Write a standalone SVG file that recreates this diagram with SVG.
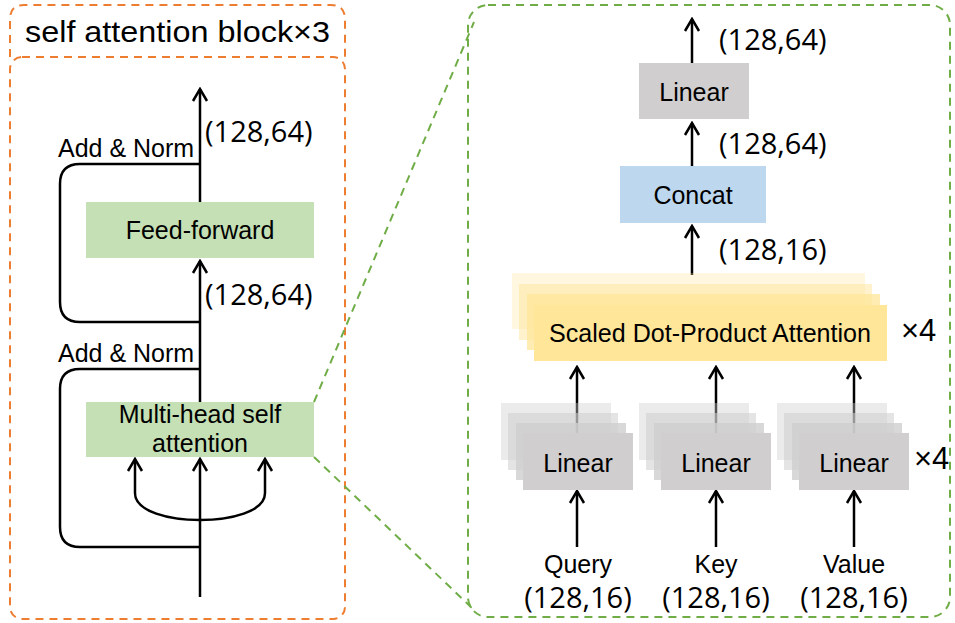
<svg xmlns="http://www.w3.org/2000/svg" width="955" height="623" viewBox="0 0 955 623">
<style>
.t{font-family:"Liberation Sans",Arial,sans-serif;font-size:25px;fill:#000}
.d{font-family:"Open Sans","Liberation Sans",sans-serif;font-size:29px;fill:#000}
.x{font-family:"Liberation Sans",Arial,sans-serif;font-size:31px;fill:#000}
.ln{fill:none;stroke:#000;stroke-width:2.5}
.orange{fill:none;stroke:#ED7D31;stroke-width:2;stroke-dasharray:8 6}
.green{fill:none;stroke:#70AD47;stroke-width:2;stroke-dasharray:8 6}
.lin{fill:#D0CECE}
.sd{fill:#FFE699}
</style>
<defs>
<marker id="ah" viewBox="-15 -10 17 20" refX="0" refY="0" markerWidth="17" markerHeight="20" markerUnits="userSpaceOnUse" orient="auto">
<path d="M-12,-7 L0,0 L-12,7" fill="none" stroke="#000" stroke-width="2.5"/>
</marker>
</defs>
<rect width="955" height="623" fill="#fff"/>

<g id="left-frame">
<path class="orange" d="M10,57 V19 Q10,5 24,5 H331 Q345,5 345,19 V57"/>
<rect class="orange" x="10" y="57" width="335" height="562" rx="12"/>
<text class="t" x="25" y="42" style="font-size:30px" textLength="305" lengthAdjust="spacingAndGlyphs">self attention block×3</text>
</g>

<g id="right-frame">
<rect class="green" x="468" y="5" width="482" height="612" rx="20"/>
</g>

<g id="zoom-lines">
<line class="green" x1="314" y1="402" x2="474" y2="22"/>
<line class="green" x1="314" y1="457" x2="474" y2="610"/>
</g>

<g id="connectors">
<path class="ln" d="M200,597 V459" marker-end="url(#ah)"/>
<path class="ln" d="M200,402 V261" marker-end="url(#ah)"/>
<path class="ln" d="M200,202 V89" marker-end="url(#ah)"/>
<path class="ln" d="M135,493 C135,512 170,520 200,520 C230,520 265,512 265,493 V459" marker-end="url(#ah)"/>
<path class="ln" d="M135,493 V459" marker-end="url(#ah)"/>
<path class="ln" d="M200,547 H80 Q60,547 60,527 V389 Q60,369 80,369 H200"/>
<path class="ln" d="M200,322 H80 Q60,322 60,302 V184 Q60,164 80,164 H200"/>
<path class="ln" d="M692,63 V19" marker-end="url(#ah)"/>
<path class="ln" d="M692,166 V123" marker-end="url(#ah)"/>
<path class="ln" d="M692,275 V226" marker-end="url(#ah)"/>
<path class="ln" d="M577,433 V367" marker-end="url(#ah)"/>
<path class="ln" d="M716,433 V367" marker-end="url(#ah)"/>
<path class="ln" d="M854,433 V367" marker-end="url(#ah)"/>
<path class="ln" d="M577,547 V491" marker-end="url(#ah)"/>
<path class="ln" d="M716,547 V491" marker-end="url(#ah)"/>
<path class="ln" d="M854,547 V491" marker-end="url(#ah)"/>
</g>

<g id="labels-left">
<text class="t" x="58" y="157">Add &amp; Norm</text>
<text class="t" x="58" y="362">Add &amp; Norm</text>
<text class="d" x="205" y="142">(128,64)</text>
<text class="d" x="205" y="305">(128,64)</text>
</g>

<g id="feed-forward">
<rect x="86" y="202" width="228" height="56" fill="#C5E0B4"/>
<text class="t" x="200" y="239" text-anchor="middle">Feed-forward</text>
</g>

<g id="multi-head">
<rect x="86" y="402" width="228" height="55" fill="#C5E0B4"/>
<text class="t" x="200" y="423" text-anchor="middle">Multi-head self</text>
<text class="t" x="200" y="452" text-anchor="middle">attention</text>
</g>

<g id="linear-out">
<rect class="lin" x="639" y="63" width="110" height="56"/>
<text class="t" x="694" y="101" text-anchor="middle">Linear</text>
</g>
<text class="d" x="719" y="50">(128,64)</text>

<g id="concat">
<rect x="620" y="166" width="146" height="57" fill="#BDD7EE"/>
<text class="t" x="693" y="204" text-anchor="middle">Concat</text>
</g>
<text class="d" x="719" y="154">(128,64)</text>
<text class="d" x="719" y="260">(128,16)</text>

<g id="sdpa">
<rect class="sd" x="512" y="273" width="353" height="56" opacity="0.3"/>
<rect class="sd" x="519" y="284" width="353" height="56" opacity="0.5"/>
<rect class="sd" x="527" y="294" width="353" height="56" opacity="0.75"/>
<rect class="sd" x="534" y="305" width="353" height="56"/>
<text class="t" x="549" y="342" textLength="322" lengthAdjust="spacingAndGlyphs">Scaled Dot-Product Attention</text>
</g>
<text class="x" x="901" y="341">×4</text>

<g id="linear-q">
<rect class="lin" x="501" y="403" width="110" height="57" opacity="0.4"/>
<rect class="lin" x="508" y="413" width="110" height="57" opacity="0.55"/>
<rect class="lin" x="516" y="423" width="110" height="57" opacity="0.8"/>
<rect class="lin" x="523" y="433" width="110" height="57"/>
<text class="t" x="578" y="472" text-anchor="middle">Linear</text>
</g>
<g id="linear-k">
<rect class="lin" x="639" y="403" width="110" height="57" opacity="0.4"/>
<rect class="lin" x="646" y="413" width="110" height="57" opacity="0.55"/>
<rect class="lin" x="654" y="423" width="110" height="57" opacity="0.8"/>
<rect class="lin" x="661" y="433" width="110" height="57"/>
<text class="t" x="716" y="472" text-anchor="middle">Linear</text>
</g>
<g id="linear-v">
<rect class="lin" x="777" y="403" width="110" height="57" opacity="0.4"/>
<rect class="lin" x="784" y="413" width="110" height="57" opacity="0.55"/>
<rect class="lin" x="792" y="423" width="110" height="57" opacity="0.8"/>
<rect class="lin" x="799" y="433" width="110" height="57"/>
<text class="t" x="854" y="472" text-anchor="middle">Linear</text>
</g>
<text class="x" x="914" y="469">×4</text>

<g id="query">
<text class="t" x="578" y="573" text-anchor="middle">Query</text>
<text class="d" x="578" y="608" text-anchor="middle">(128,16)</text>
</g>
<g id="key">
<text class="t" x="716" y="573" text-anchor="middle">Key</text>
<text class="d" x="716" y="608" text-anchor="middle">(128,16)</text>
</g>
<g id="value">
<text class="t" x="854" y="573" text-anchor="middle">Value</text>
<text class="d" x="854" y="608" text-anchor="middle">(128,16)</text>
</g>
</svg>
